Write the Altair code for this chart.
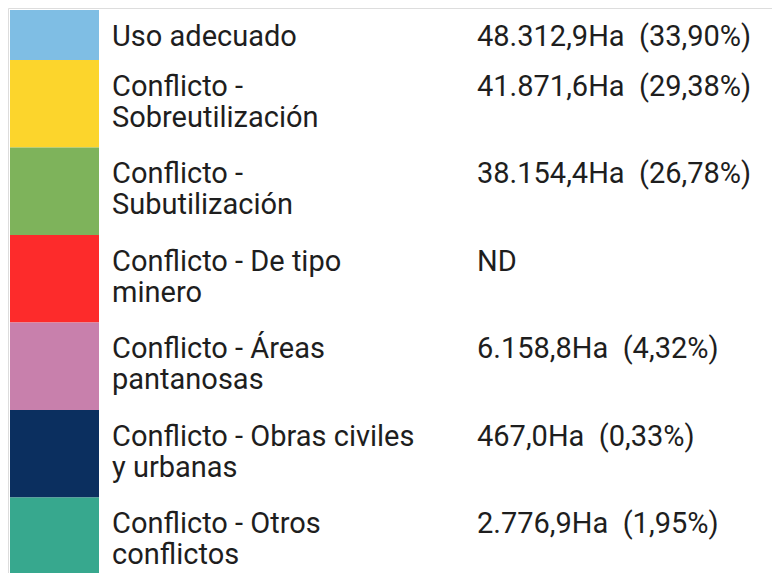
import altair as alt
import pandas as pd

# ---- data ----
labels = [
    "Uso adecuado",
    "Conflicto -\nSobreutilización",
    "Conflicto -\nSubutilización",
    "Conflicto - De tipo\nminero",
    "Conflicto - Áreas\npantanosas",
    "Conflicto - Obras civiles\ny urbanas",
    "Conflicto - Otros\nconflictos",
]
hectares = [48312.9, 41871.6, 38154.4, None, 6158.8, 467.0, 2776.9]
percents = [33.90, 29.38, 26.78, None, 4.32, 0.33, 1.95]
colors = ["#7fbee4", "#fcd52c", "#7eb35b", "#fd2b2b", "#c880ac", "#0b2f5f", "#37a88e"]


def es_num(v, dec):
    s = f"{v:,.{dec}f}"
    return s.replace(",", "X").replace(".", ",").replace("X", ".")


def value_text(h, p):
    if h is None:
        return "ND"
    return f"{es_num(h, 1)}Ha\u00a0 ({es_num(p, 2)}%)"


# ---- layout (chart pixel units) ----
W, H = 764, 565
ROW_PAD, LINE_H = 12.5, 37.5
SW_X0, SW_X1, LABEL_X, VALUE_X = 2, 91, 104, 469
BASE_OFF = 35.5

rows = []
top = 2.0
for lab, h, p, c in zip(labels, hectares, percents, colors):
    n = lab.count("\n") + 1
    hgt = ROW_PAD + LINE_H * n
    rows.append(dict(label=lab, value=value_text(h, p), color=c,
                     y0=top, y1=top + hgt, ty=top + BASE_OFF,
                     sx0=SW_X0, sx1=SW_X1, lx=LABEL_X, vx=VALUE_X))
    top += hgt
df = pd.DataFrame(rows)

xs = alt.Scale(domain=[0, W], range=[0, W])
ys = alt.Scale(domain=[0, H], reverse=True, clamp=True)

base = alt.Chart(df)

swatches = base.mark_rect().encode(
    x=alt.X("sx0:Q", scale=xs, axis=None),
    x2="sx1:Q",
    y=alt.Y("y0:Q", scale=ys, axis=None),
    y2="y1:Q",
    color=alt.Color("color:N", scale=None, legend=None),
)

label_text = base.mark_text(
    align="left", baseline="alphabetic", font="Roboto", fontSize=29,
    lineBreak="\n", lineHeight=31, color="#1e1e1e",
).encode(
    x=alt.X("lx:Q", scale=xs, axis=None),
    y=alt.Y("ty:Q", scale=ys, axis=None),
    text="label:N",
)

value_txt = base.mark_text(
    align="left", baseline="alphabetic", font="Roboto", fontSize=29,
    color="#1e1e1e",
).encode(
    x=alt.X("vx:Q", scale=xs, axis=None),
    y=alt.Y("ty:Q", scale=ys, axis=None),
    text="value:N",
)

chart = alt.layer(swatches, label_text, value_txt).properties(
    width=W, height=H, autosize="none", padding=0,
).configure_view(strokeWidth=0, strokeOpacity=0).configure(background="white")

chart.save("out.html", embed_options={"renderer": "svg", "actions": False})
